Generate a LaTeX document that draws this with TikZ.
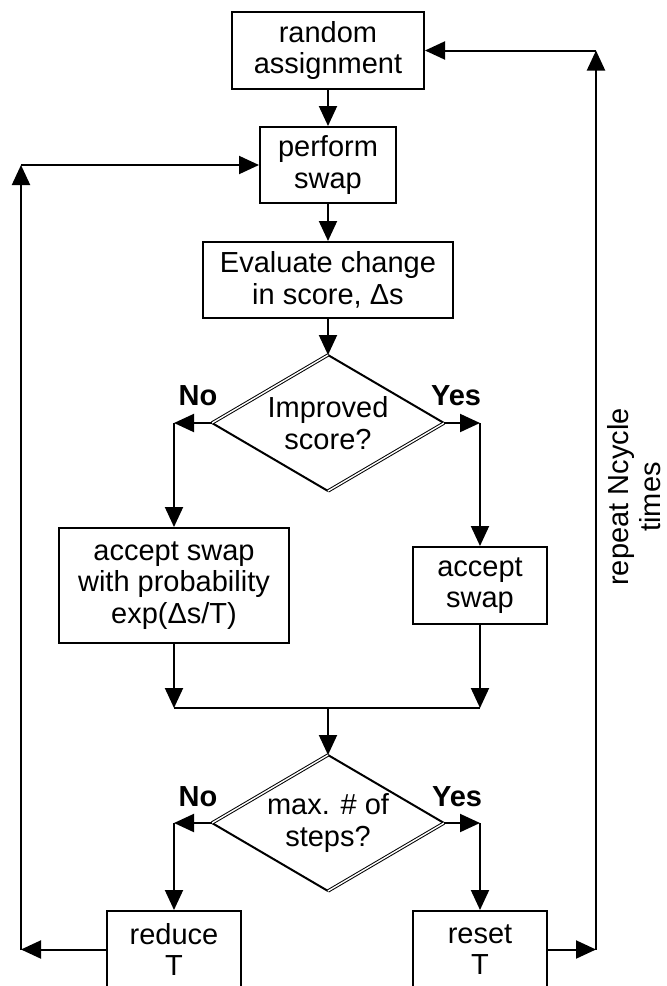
\documentclass[tikz,border=0pt]{standalone}
\usepackage{fontspec}
\setmainfont{Liberation Sans}
\usetikzlibrary{arrows.meta,shapes.geometric}

\begin{document}
\begin{tikzpicture}[x=0.5pt,y=-0.5pt,line width=1pt,>={Triangle[length=10pt,width=9pt]}]
	\tikzset{every node/.style={font=\fontsize{14.5pt}{15.75pt}\selectfont,align=center,inner sep=0pt},
		box/.style={draw,rectangle,line width=1pt},
		decision/.style={diamond,aspect=1.7,minimum width=115pt,minimum height=67pt},
		answer/.style={font=\fontsize{14.5pt}{15.75pt}\selectfont\bfseries},
		dbl/.style={line width=0.5pt,double,double distance=0.7pt}}
	\useasboundingbox (0,0) rectangle (666,986);
	\clip (0,0) rectangle (666,986);
	% boxes
	\node[box,minimum width=96pt,minimum height=38.5pt] (rand) at (328,50.5) {random\\assignment};
	\node[box,minimum width=68pt,minimum height=38pt] (perf) at (328,165) {perform\\swap};
	\node[box,minimum width=125pt,minimum height=38pt] (eval) at (328,280) {Evaluate change\\in score, Δs};
	\node[decision] (dec1) at (328,423) {Improved\\score?};
	\node[box,minimum width=115pt,minimum height=57.5pt] (prob) at (174,585.5) {accept swap\\with probability\\exp(Δs/T)};
	\node[box,minimum width=67pt,minimum height=38.5pt] (acc) at (480,585.5) {accept\\swap};
	\node[decision] (dec2) at (328,823) {max. \# of\\steps?};
	\node[box,minimum width=67pt,minimum height=38.5pt] (red) at (174,949.5) {reduce\\T};
	\node[box,minimum width=67pt,minimum height=38.5pt] (reset) at (480,949.5) {reset\\T};
	\node[rotate=90] (rep) at (634,497) {repeat Ncycle\\times};
	% yes / no
	\node[answer] (no1) at (198,396) {No};
	\node[answer] (yes1) at (456,396) {Yes};
	\node[answer] (no2) at (198,797) {No};
	\node[answer] (yes2) at (457,797) {Yes};
	% diamonds, two edges doubled
	\foreach \d in {dec1,dec2}{
		\draw (\d.north) -- (\d.east) (\d.west) -- (\d.south);
		\draw[dbl] (\d.west) -- (\d.north) (\d.south) -- (\d.east);
	}
	% corners
	\coordinate (noA) at (174,423);
	\coordinate (yesA) at (480,423);
	\coordinate (mergeL) at (174,708);
	\coordinate (mergeR) at (480,708);
	\coordinate (mergeM) at (328,708);
	\coordinate (noB) at (174,823);
	\coordinate (yesB) at (480,823);
	\coordinate (loopLB) at (21,949.5);
	\coordinate (loopLT) at (21,165);
	\coordinate (loopRB) at (596,949.5);
	\coordinate (loopRT) at (596,50.5);
	% main flow
	\draw[->] (rand) -- (perf);
	\draw[->] (perf) -- (eval);
	\draw[->] (eval) -- (dec1.north);
	\draw[->] (dec1.west) -- (noA);
	\draw[->] (noA) -- (prob);
	\draw[->] (dec1.east) -- (yesA);
	\draw[->] (yesA) -- (acc);
	\draw[->] (prob) -- (mergeL);
	\draw[->] (acc) -- (mergeR);
	\draw (mergeL) -- (mergeR);
	\draw[->] (mergeM) -- (dec2.north);
	\draw[->] (dec2.west) -- (noB);
	\draw[->] (noB) -- (red);
	\draw[->] (dec2.east) -- (yesB);
	\draw[->] (yesB) -- (reset);
	% loops back
	\draw[->] (red) -- (loopLB);
	\draw[->] (loopLB) -- (loopLT);
	\draw[->] (loopLT) -- (perf);
	\draw[->] (reset) -- (loopRB);
	\draw[->] (loopRB) -- (loopRT);
	\draw[->] (loopRT) -- (rand);
\end{tikzpicture}
\end{document}
